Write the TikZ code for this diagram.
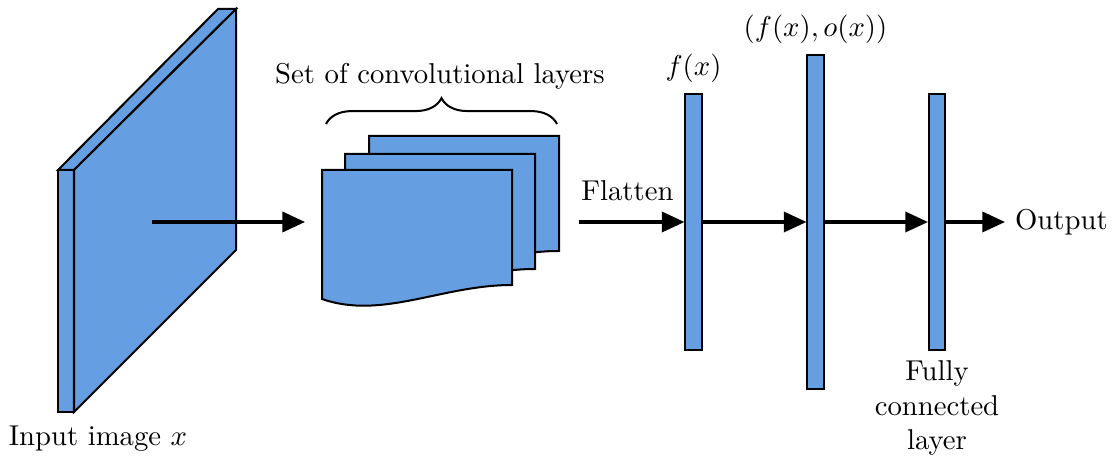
\documentclass[tikz,border=0pt]{standalone}
\usetikzlibrary{arrows.meta,decorations.pathreplacing}
\definecolor{capa}{RGB}{101,159,225}
\begin{document}
\begin{tikzpicture}[x=0.3484pt, y=-0.3484pt,
    forma/.style={draw=black, fill=capa, line width=0.7pt, line join=miter},
    capaplana/.style={forma, inner sep=0pt, minimum width=5.6pt},
    flecha/.style={-{Triangle[length=7.9pt,width=7pt]}, line width=1.15pt},
    llave/.style={decorate, decoration={brace, amplitude=9pt}, line width=0.7pt}]
    \useasboundingbox (0,0) rectangle (1117,461);

    % Imagen de entrada
    \filldraw[forma] (58,170) -- (74,170) -- (74,412) -- (58,412) -- cycle;
    \filldraw[forma] (58,170) -- (218,9) -- (236,9) -- (74,170) -- cycle;
    \filldraw[forma] (74,170) -- (236,9) -- (236,250) -- (74,412) -- cycle;
    \node (entrada) at (98,439) {Input image $x$};
    \coordinate (img) at (152,222);

    % Capas convolucionales
    \foreach \dx/\dy in {47/-34, 23/-16, 0/0}
        \filldraw[forma, shift={(322+\dx,170+\dy)}] (0,0) -- (190,0) -- (190,115)
            .. controls (120,115) and (60,150) .. (0,129) -- cycle;
    \coordinate (conv) at (322,222);
    \coordinate (convout) at (560,222);
    \draw[llave] (326,124) -- (557,124);
    \node (conjunto) at (440,76) {Set of convolutional layers};

    % Capas densas
    \node[capaplana, minimum height=89pt] (fx) at (693.5,222) {};
    \node[capaplana, minimum height=116.5pt] (fo) at (815.5,222) {};
    \node[capaplana, minimum height=89pt] (fc) at (937,222) {};
    \node[above] (lfx) at (fx.north) {$f(x)$};
    \node[above] (lfo) at (fo.north) {$(f(x), o(x))$};
    \node[below, align=center] (lfc) at (fc.south) {Fully\\connected\\layer};
    \node[right] (salida) at (1005,222) {Output};

    % Flechas
    \draw[flecha, shorten >=5.9pt] (img) -- (conv);
    \draw[flecha, shorten <=6.6pt] (convout) -- (fx.west) node[midway, above=3.6pt, xshift=1.8pt] (flatten) {Flatten};
    \draw[flecha] (fx.east) -- (fo.west);
    \draw[flecha] (fo.east) -- (fc.west);
    \draw[flecha] (fc.east) -- (salida.west);
\end{tikzpicture}
\end{document}
